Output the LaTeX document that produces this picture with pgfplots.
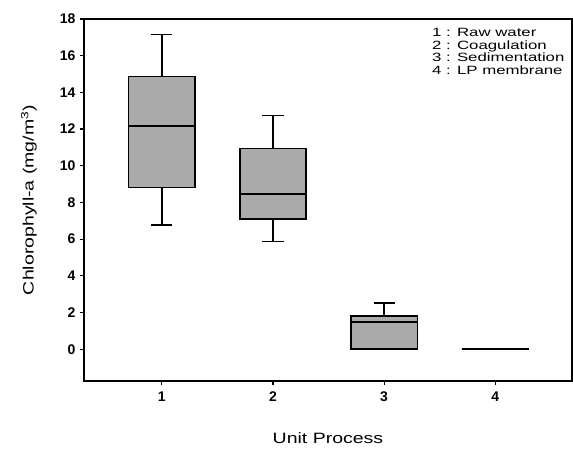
\documentclass[border=0pt]{standalone}
\usepackage{fontspec}
\setmainfont{Liberation Sans}
\newfontfamily\widefont[FakeStretch=1.3]{Liberation Sans}
\newfontfamily\legfont[FakeStretch=1.4]{Liberation Sans}
\usepackage{pgfplots}
\pgfplotsset{compat=1.18}
\usepgfplotslibrary{statistics}
\definecolor{boxgray}{RGB}{170,170,170}
\begin{document}
\begin{tikzpicture}
\begin{axis}[
  scale only axis,
  width=488pt, height=362pt,
  xmin=0.3, xmax=4.69,
  ymin=-1.73, ymax=18,
  xtick={1,2,3,4},
  ytick={0,2,4,6,8,10,12,14,16,18},
  tick align=outside,
  major tick length=4pt,
  xtick pos=bottom, ytick pos=left,
  axis line style={line width=1.4pt},
  every tick/.style={black, line width=1.2pt},
  /pgf/number format/assume math mode=true,
  tick label style={font=\bfseries\fontsize{14}{16}\selectfont},
  yticklabel style={xshift=-1pt},
  xticklabel style={yshift=-3pt},
  xlabel={Unit Process},
  ylabel={Chlorophyll-a (mg/m\textsuperscript{3})},
  xlabel style={font=\widefont\fontsize{15}{17}\selectfont, at={(axis description cs:0.5,-0.1575)}, anchor=center},
  ylabel style={font=\widefont\fontsize{15}{17}\selectfont, at={(axis description cs:-0.1127,0.5)}, anchor=center, rotate=0},
  boxplot/draw direction=y,
  boxplot/box extend=0.6,
  boxplot/whisker extend=0.19,
  boxplot/every box/.style={draw=black, line width=1.8pt, fill=boxgray},
  boxplot/every whisker/.style={black, line width=1.6pt},
  boxplot/every median/.style={black, line width=1.6pt},
]
\addplot+[mark=none, black, line width=1.6pt, boxplot prepared={draw position=1, lower whisker=6.78, lower quartile=8.82, median=12.18, upper quartile=14.87, upper whisker=17.15}] coordinates {};
\addplot+[mark=none, black, line width=1.6pt, boxplot prepared={draw position=2, lower whisker=5.87, lower quartile=7.11, median=8.47, upper quartile=10.94, upper whisker=12.74}] coordinates {};
\addplot+[mark=none, black, line width=1.6pt, boxplot prepared={draw position=3, lower whisker=0, lower quartile=0, median=1.49, upper quartile=1.83, upper whisker=2.51}] coordinates {};
\addplot+[mark=none, black, line width=1.6pt, boxplot prepared={draw position=4, lower whisker=0, lower quartile=0, median=0, upper quartile=0, upper whisker=0}] coordinates {};
\node[anchor=north west, align=left, inner sep=0pt, font=\legfont\fontsize{12}{12.7}\selectfont] at (axis description cs:0.713,0.975)
  {1 : Raw water\\2 : Coagulation\\3 : Sedimentation\\4 : LP membrane};
\end{axis}
\path ([xshift=-84pt,yshift=-67pt]current axis.south west) rectangle ++(573pt,448pt);
\end{tikzpicture}
\end{document}
